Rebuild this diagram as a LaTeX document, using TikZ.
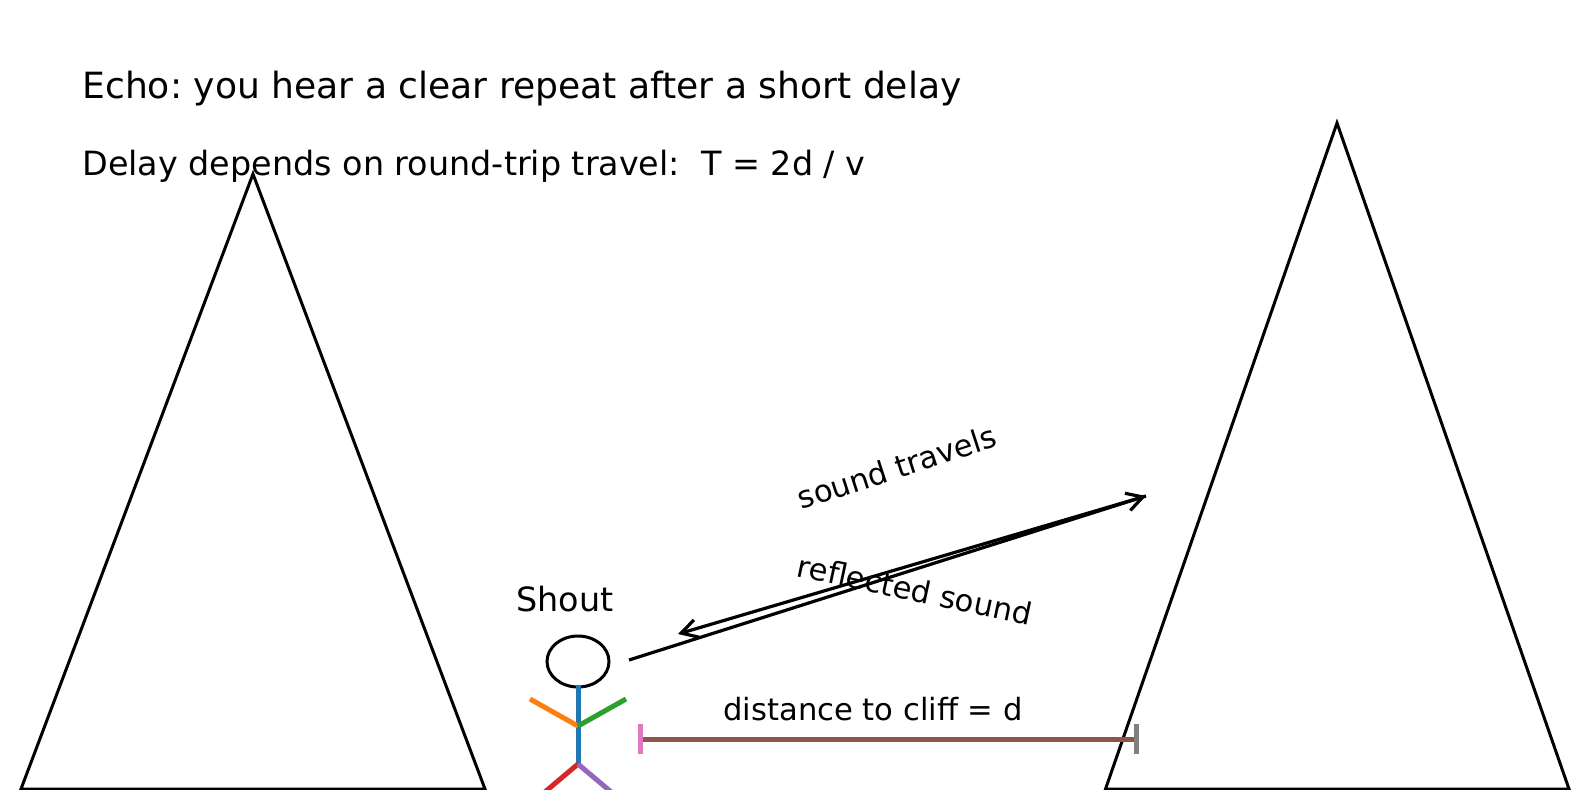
\documentclass[tikz,border=0pt]{standalone}
\usepackage{fontspec}
\setmainfont{DejaVu Sans}
\usetikzlibrary{arrows.meta,shapes.geometric}
\definecolor{tabblue}{HTML}{1F77B4}
\definecolor{taborange}{HTML}{FF7F0E}
\definecolor{tabgreen}{HTML}{2CA02C}
\definecolor{tabred}{HTML}{D62728}
\definecolor{tabpurple}{HTML}{9467BD}
\definecolor{tabbrown}{HTML}{8C564B}
\definecolor{tabpink}{HTML}{E377C2}
\definecolor{tabgray}{HTML}{7F7F7F}
\tikzset{
  x=0.5pt,y=-0.5pt,
  outline/.style={draw=black,line width=1.5pt,line join=miter},
  limb/.style={line width=2.5pt},
  ray/.style={draw=black,line width=1.6pt,-{Straight Barb[length=8pt,width=9pt,line width=1.6pt]}},
  caption/.style={inner sep=0pt,anchor=base west,text=black},
  tag/.style={inner sep=0pt,anchor=center,text=black},
}
\frenchspacing
\begin{document}
\begin{tikzpicture}
\useasboundingbox (0,0) rectangle (1589,810);

% cliffs, cut off along the ground line
\begin{scope}
  \clip (0,0) rectangle (1589,789.6);
  \draw[outline] (21,789) -- (253,174) -- (485,789) -- cycle;
  \draw[outline] (1105.5,789) -- (1337,123) -- (1569,789) -- cycle;
\end{scope}

% headings
\node[caption,font=\fontsize{18.05pt}{21pt}\selectfont] (title) at (82,98) {Echo: you hear a clear repeat after a short delay};
\node[caption,font=\fontsize{16.7pt}{19pt}\selectfont] (formula) at (82,175) {Delay depends on round-trip travel:\ \ T = 2d / v};

% person shouting
\node[draw=black,line width=1.5pt,ellipse,minimum width=31pt,minimum height=25.5pt,inner sep=0pt] (head) at (578,661.5) {};
\coordinate (neck) at (578,685);
\coordinate (hip) at (578,764);
\coordinate (shoulder) at (578,726);
\coordinate (handL) at (530,699);
\coordinate (handR) at (626,699);
\coordinate (footL) at (533,802);
\coordinate (footR) at (623,802);
\draw[limb,tabblue] (neck) -- (hip);
\draw[limb,taborange] (handL) -- (shoulder);
\draw[limb,tabgreen] (shoulder) -- (handR);
\begin{scope}
  \clip (500,700) rectangle (660,789);
  \draw[limb,tabred] (hip) -- (footL);
  \draw[limb,tabpurple] (hip) -- (footR);
\end{scope}
\node[tag,font=\fontsize{16.7pt}{19pt}\selectfont] (shout) at (565,599) {Shout};

% sound path
\coordinate (mouth) at (629,660);
\coordinate (wall) at (1146,496);
\coordinate (back) at (678,634);
\draw[ray] (mouth) -- (wall);
\draw[ray] (wall) -- (back);
\node[tag,rotate=18,font=\fontsize{15.3pt}{18pt}\selectfont] (out) at (897,467) {sound travels};
\node[tag,rotate=-12,font=\fontsize{15.3pt}{18pt}\selectfont] (refl) at (915,590) {reflected sound};

% distance bar
\coordinate (barL) at (640,739);
\coordinate (barR) at (1136,739);
\draw[limb,tabbrown] (barL) -- (barR);
\draw[limb,tabpink] (640,724) -- (barL) -- (640,754);
\draw[limb,tabgray] (1136,724) -- (barR) -- (1136,754);
\node[tag,font=\fontsize{15.3pt}{18pt}\selectfont] (dist) at (873,709) {distance to cliff = d};
\end{tikzpicture}
\end{document}
